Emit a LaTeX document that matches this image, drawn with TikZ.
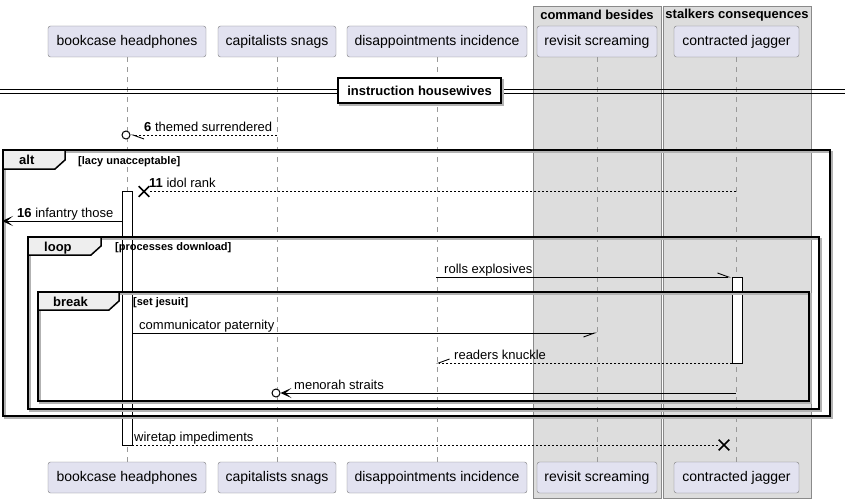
\documentclass[tikz,border=0pt]{standalone}
\usepackage{fontspec}
\setmainfont{Liberation Sans}
\usetikzlibrary{arrows.meta, positioning, shapes.misc}

\definecolor{partfill}{HTML}{E2E2F0}
\definecolor{partline}{HTML}{7A7A7A}
\definecolor{grpfill}{HTML}{DDDDDD}
\definecolor{grpline}{HTML}{8A8A8A}
\definecolor{tabfill}{HTML}{EEEEEE}

\begin{document}
\begin{tikzpicture}[x=1pt, y=-1pt,
  part/.style={rectangle, rounded corners=2.5pt, draw=partline, fill=partfill, minimum height=31pt, inner sep=0pt, font=\fontsize{14}{16}\selectfont},
  grp/.style={draw=grpline, fill=grpfill},
  grptxt/.style={inner sep=0pt, font=\fontsize{13}{15}\selectfont\bfseries},
  life/.style={draw=gray!80, dash pattern=on 5pt off 5pt},
  msg/.style={line width=0.9pt},
  ret/.style={line width=0.9pt, dash pattern=on 2pt off 2pt},
  half/.style={-{Straight Barb[harpoon, length=11pt, width=8pt]}},
  halfsw/.style={-{Straight Barb[harpoon, swap, length=11pt, width=8pt]}},
  full/.style={-{Stealth[length=11pt, width=10pt, inset=6pt]}},
  lbl/.style={anchor=base west, inner sep=0pt, font=\fontsize{13}{15}\selectfont},
  frame/.style={draw, line width=1.5pt},
  shade/.style={draw=black!30, line width=1.5pt},
  tab/.style={draw, line width=1.5pt, fill=tabfill},
  tabtxt/.style={anchor=base west, inner sep=0pt, font=\fontsize{13}{15}\selectfont\bfseries},
  guard/.style={anchor=base west, inner sep=0pt, font=\fontsize{11}{13}\selectfont\bfseries},
  act/.style={draw, fill=white, line width=0.9pt},
  endo/.style={circle, draw, line width=1pt, fill=white, minimum size=8pt, inner sep=0pt},
  endx/.style={cross out, draw, line width=1.6pt, minimum size=9pt, inner sep=0pt}
]

\useasboundingbox (0,0) rectangle (845,503);

% Boxes round the last two participants
\draw[grp] (533,6) rectangle (661,498);
\node[grptxt] (cbt) at (597,15) {command besides};
\draw[grp] (663,6) rectangle (811,498);
\node[grptxt] (sct) at (737,15) {stalkers consequences};

% Participants (top row)
\node[part, minimum width=158pt] (bh) at (127,41.5) {bookcase headphones};
\node[part, minimum width=118pt] (cs) at (277,41.5) {capitalists snags};
\node[part, minimum width=180pt] (di) at (437,41.5) {disappointments incidence};
\node[part, minimum width=120pt] (rs) at (597,41.5) {revisit screaming};
\node[part, minimum width=125pt] (cj) at (736.5,41.5) {contracted jagger};

% Participants (bottom row)
\node[part, minimum width=158pt] (bh2) at (127,477.5) {bookcase headphones};
\node[part, minimum width=118pt] (cs2) at (277,477.5) {capitalists snags};
\node[part, minimum width=180pt] (di2) at (437,477.5) {disappointments incidence};
\node[part, minimum width=120pt] (rs2) at (597,477.5) {revisit screaming};
\node[part, minimum width=125pt] (cj2) at (736.5,477.5) {contracted jagger};

% Lifelines
\foreach \p in {bh, cs, di, rs, cj}
  \draw[life] (\p.south) -- (\p2.north);

% Divider
\draw[line width=1pt] (0,89.5) -- (845,89.5);
\draw[line width=1pt] (0,93) -- (845,93);
\draw[shade] (340,80) rectangle (503,105);
\node[draw, line width=1.5pt, fill=white, minimum width=163pt, minimum height=25pt, inner sep=0pt,
  font=\fontsize{13}{15}\selectfont\bfseries] (sep) at (419.5,90.5) {instruction housewives};

% Activations
\draw[act] (122,191) rectangle (132,445);
\draw[act] (732,277) rectangle (742,363);

% alt frame
\draw[shade] (5,152) rectangle (832,418);
\draw[frame] (3,150) rectangle (830,416);
\draw[tab] (3,150) -- (65,150) -- (65,160) -- (55,169) -- (3,169) -- cycle;
\node[tabtxt] (altl) at (19,164) {alt};
\node[guard] (altg) at (78,164) {[lacy unacceptable]};

% loop frame
\draw[shade] (30,239) rectangle (821,411);
\draw[frame] (28,237) rectangle (819,409);
\draw[tab] (28,237) -- (101,237) -- (101,246) -- (91,255) -- (28,255) -- cycle;
\node[tabtxt] (loopl) at (44,251) {loop};
\node[guard] (loopg) at (115,250) {[processes download]};

% break frame
\draw[shade] (40,294) rectangle (811,403);
\draw[frame] (38,292) rectangle (809,401);
\draw[tab] (38,292) -- (119,292) -- (119,301) -- (109,310) -- (38,310) -- cycle;
\node[tabtxt] (brkl) at (53,306) {break};
\node[guard] (brkg) at (133,305) {[set jesuit]};

% Messages
\coordinate (m6a) at (277,135);
\node[endo] (m6o) at (126,135) {};
\draw[ret, half] (m6a) -- (m6o);
\node[lbl] (m6l) at (144,131) {\textbf{6} themed surrendered};

\coordinate (m11a) at (736,191.5);
\node[endx] (m11x) at (144,191.5) {};
\draw[ret] (m11a) -- (m11x);
\node[lbl] (m11l) at (149,187) {\textbf{11} idol rank};

\coordinate (m16a) at (122,221);
\coordinate (m16b) at (2,221);
\draw[msg, full] (m16a) -- (m16b);
\node[lbl] (m16l) at (17,217) {\textbf{16} infantry those};

\coordinate (rea) at (436,277);
\coordinate (reb) at (731,277);
\draw[msg, half] (rea) -- (reb);
\node[lbl] (rel) at (444,273) {rolls explosives};

\coordinate (cpa) at (132,333);
\coordinate (cpb) at (597,333);
\draw[msg, halfsw] (cpa) -- (cpb);
\node[lbl] (cpl) at (139,329) {communicator paternity};

\coordinate (rka) at (732,363);
\coordinate (rkb) at (436,363);
\draw[ret, halfsw] (rka) -- (rkb);
\node[lbl] (rkl) at (454,359) {readers knuckle};

\coordinate (msa) at (736,393);
\node[endo] (mso) at (276,393) {};
\draw[msg, full] (msa) -- (mso);
\node[lbl] (msl) at (294,389) {menorah straits};

\coordinate (wia) at (132,445);
\node[endx] (wix) at (724,445) {};
\draw[ret] (wia) -- (wix);
\node[lbl] (wil) at (134,441) {wiretap impediments};

\end{tikzpicture}
\end{document}
